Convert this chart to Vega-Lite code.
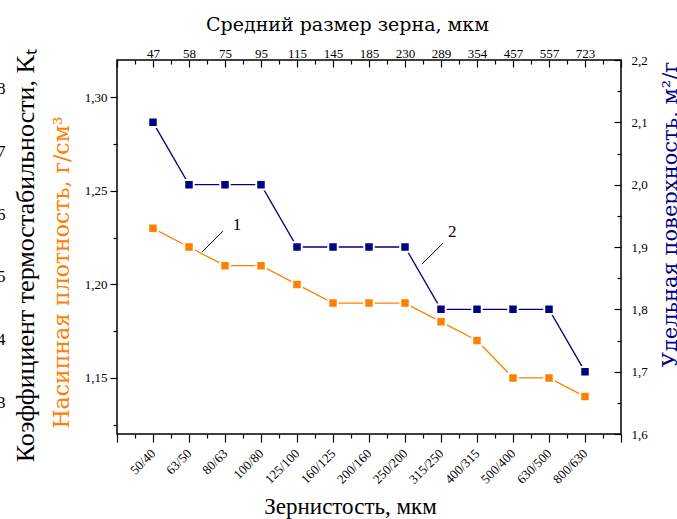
{
  "$schema": "https://vega.github.io/schema/vega-lite/v6.json",
  "width": 504,
  "height": 374,
  "autosize": {"type": "none"},
  "padding": {"left": 117, "top": 60, "right": 56, "bottom": 85},
  "background": "white",
  "config": {
    "font": "Liberation Serif",
    "view": {"stroke": "black", "strokeWidth": 1.5},
    "axis": {"grid": false, "domain": false, "labelFont": "Liberation Serif", "titleFont": "Liberation Serif", "labelFontSize": 13, "labelColor": "black", "tickColor": "black", "tickWidth": 1.2, "titleFontWeight": "normal", "labelFlush": false, "labelOverlap": false, "labelBound": false}
  },
  "datasets": {
    "rows": [
      {"idx": 1, "grain": "50/40", "mean": 47, "density": 1.23, "surface": 2.1},
      {"idx": 2, "grain": "63/50", "mean": 58, "density": 1.22, "surface": 2.0},
      {"idx": 3, "grain": "80/63", "mean": 75, "density": 1.21, "surface": 2.0},
      {"idx": 4, "grain": "100/80", "mean": 95, "density": 1.21, "surface": 2.0},
      {"idx": 5, "grain": "125/100", "mean": 115, "density": 1.20, "surface": 1.9},
      {"idx": 6, "grain": "160/125", "mean": 145, "density": 1.19, "surface": 1.9},
      {"idx": 7, "grain": "200/160", "mean": 185, "density": 1.19, "surface": 1.9},
      {"idx": 8, "grain": "250/200", "mean": 230, "density": 1.19, "surface": 1.9},
      {"idx": 9, "grain": "315/250", "mean": 289, "density": 1.18, "surface": 1.8},
      {"idx": 10, "grain": "400/315", "mean": 354, "density": 1.17, "surface": 1.8},
      {"idx": 11, "grain": "500/400", "mean": 457, "density": 1.15, "surface": 1.8},
      {"idx": 12, "grain": "630/500", "mean": 557, "density": 1.15, "surface": 1.8},
      {"idx": 13, "grain": "800/630", "mean": 723, "density": 1.14, "surface": 1.7}
    ],
    "notes": [
      {"n": "1", "x1": 2.36, "y1": 1.2173, "x2": 2.94, "y2": 1.2285, "tx": 3.33, "ty": 1.2317},
      {"n": "2", "x1": 8.47, "y1": 1.2109, "x2": 9.06, "y2": 1.2221, "tx": 9.31, "ty": 1.228}
    ]
  },
  "resolve": {"scale": {"x": "independent", "y": "independent"}, "axis": {"x": "independent", "y": "independent"}},
  "layer": [
    {
      "data": {"name": "rows"},
      "mark": {"type": "line", "color": "#FF8000", "strokeWidth": 1.3},
      "encoding": {
        "x": {"field": "idx", "type": "quantitative", "scale": {"domain": [0, 14], "nice": false, "zero": false},
          "axis": {"orient": "bottom", "values": [0,0.5,1,1.5,2,2.5,3,3.5,4,4.5,5,5.5,6,6.5,7,7.5,8,8.5,9,9.5,10,10.5,11,11.5,12,12.5,13,13.5,14],
            "tickSize": {"condition": {"test": "datum.value % 1 != 0", "value": 4}, "value": 8},
            "labelAngle": -45, "labelAlign": "right", "labelBaseline": "middle", "labelPadding": 9, "labelFont": "Liberation Serif", "labelFontSize": 13,
            "labelExpr": "datum.value % 1 != 0 || datum.value < 1 || datum.value > 13 ? '' : ['50/40','63/50','80/63','100/80','125/100','160/125','200/160','250/200','315/250','400/315','500/400','630/500','800/630'][datum.value - 1]",
            "title": "Зернистость, мкм", "titleFont": "Liberation Serif", "titleFontSize": 23, "titleColor": "black", "titleX": 233, "titleY": 79, "titleBaseline": "alphabetic"}},
        "y": {"field": "density", "type": "quantitative", "scale": {"domain": [1.12, 1.32], "nice": false, "zero": false},
          "axis": {"orient": "left", "values": [1.125,1.15,1.175,1.2,1.225,1.25,1.275,1.3],
            "tickSize": {"condition": {"test": "abs(round(datum.value*20)-datum.value*20) > 0.01", "value": 4}, "value": 7},
            "labelPadding": 3, "labelFont": "Liberation Serif", "labelFontSize": 13,
            "labelExpr": "abs(round(datum.value*20)-datum.value*20) > 0.01 ? '' : replace(format(datum.value, '.2f'), '.', ',')",
            "title": "Насипная плотность, г/см³", "titleFont": "DejaVu Serif", "titleFontSize": 22, "titleColor": "#FF8000", "titleAngle": -90, "titleX": -49, "titleY": 212, "titleBaseline": "alphabetic", "titleAlign": "center"}}
      }
    },
    {
      "data": {"name": "rows"},
      "mark": {"type": "point", "shape": "square", "filled": true, "color": "#FF8000", "size": 90, "stroke": "white", "strokeWidth": 2, "opacity": 1},
      "encoding": {
        "x": {"field": "idx", "type": "quantitative", "scale": {"domain": [0, 14], "nice": false, "zero": false}, "axis": null},
        "y": {"field": "density", "type": "quantitative", "scale": {"domain": [1.12, 1.32], "nice": false, "zero": false}, "axis": null}
      }
    },
    {
      "data": {"name": "rows"},
      "mark": {"type": "line", "color": "#000080", "strokeWidth": 1.3},
      "encoding": {
        "x": {"field": "idx", "type": "quantitative", "scale": {"domain": [0, 14], "nice": false, "zero": false},
          "axis": {"orient": "top", "values": [0,0.5,1,1.5,2,2.5,3,3.5,4,4.5,5,5.5,6,6.5,7,7.5,8,8.5,9,9.5,10,10.5,11,11.5,12,12.5,13,13.5,14],
            "tickSize": {"condition": {"test": "datum.value % 1 != 0", "value": -4}, "value": -7},
            "labelPadding": 7, "labelFont": "Liberation Serif", "labelFontSize": 13,
            "labelExpr": "datum.value % 1 != 0 || datum.value < 1 || datum.value > 13 ? '' : ['47','58','75','95','115','145','185','230','289','354','457','557','723'][datum.value - 1]",
            "title": "Средний размер зерна, мкм", "titleFont": "DejaVu Serif", "titleFontSize": 19, "titleColor": "black", "titleX": 230, "titleY": -30, "titleBaseline": "alphabetic"}},
        "y": {"field": "surface", "type": "quantitative", "scale": {"domain": [1.6, 2.2], "nice": false, "zero": false},
          "axis": {"orient": "right", "values": [1.6,1.65,1.7,1.75,1.8,1.85,1.9,1.95,2,2.05,2.1,2.15,2.2],
            "tickSize": {"condition": {"test": "abs(round(datum.value*10)-datum.value*10) > 0.01", "value": -4}, "value": -7},
            "labelPadding": 17, "labelFont": "Liberation Serif", "labelFontSize": 13,
            "labelExpr": "abs(round(datum.value*10)-datum.value*10) > 0.01 ? '' : replace(format(datum.value, '.1f'), '.', ',')",
            "title": "Удельная поверхность, м²/г", "titleFont": "DejaVu Serif", "titleFontSize": 21, "titleColor": "#000080", "titleAngle": -90, "titleX": 55, "titleY": 154, "titleBaseline": "alphabetic", "titleAlign": "center"}}
      }
    },
    {
      "data": {"name": "rows"},
      "mark": {"type": "point", "shape": "square", "filled": true, "color": "#000080", "size": 90, "stroke": "white", "strokeWidth": 2, "opacity": 1},
      "encoding": {
        "x": {"field": "idx", "type": "quantitative", "scale": {"domain": [0, 14], "nice": false, "zero": false}, "axis": null},
        "y": {"field": "surface", "type": "quantitative", "scale": {"domain": [1.6, 2.2], "nice": false, "zero": false}, "axis": null}
      }
    },
    {
      "data": {"name": "notes"},
      "mark": {"type": "rule", "color": "black", "strokeWidth": 1},
      "encoding": {
        "x": {"field": "x1", "type": "quantitative", "scale": {"domain": [0, 14], "nice": false, "zero": false}, "axis": null},
        "x2": {"field": "x2"},
        "y": {"field": "y1", "type": "quantitative", "scale": {"domain": [1.12, 1.32], "nice": false, "zero": false}, "axis": null},
        "y2": {"field": "y2"}
      }
    },
    {
      "data": {"name": "notes"},
      "mark": {"type": "text", "font": "Liberation Serif", "fontSize": 17, "color": "black"},
      "encoding": {
        "x": {"field": "tx", "type": "quantitative", "scale": {"domain": [0, 14], "nice": false, "zero": false}, "axis": null},
        "y": {"field": "ty", "type": "quantitative", "scale": {"domain": [1.12, 1.32], "nice": false, "zero": false}, "axis": null},
        "text": {"field": "n"}
      }
    },
    {
      "data": {"name": "notes"},
      "mark": {"type": "point", "opacity": 0},
      "encoding": {
        "y": {"datum": 5, "type": "quantitative", "scale": {"domain": [2.5, 8.45], "nice": false, "zero": false},
          "axis": {"orient": "left", "offset": 112, "values": [3,4,5,6,7,8], "ticks": false, "labelPadding": 0, "labelFont": "Liberation Serif", "labelFontSize": 17,
            "title": "Коэффициент термостабильности, Kₜ", "titleFont": "Liberation Serif", "titleFontSize": 26, "titleColor": "black", "titleAngle": -90, "titleX": 28, "titleY": 195, "titleBaseline": "alphabetic", "titleAlign": "center"}}
      }
    }
  ]
}
